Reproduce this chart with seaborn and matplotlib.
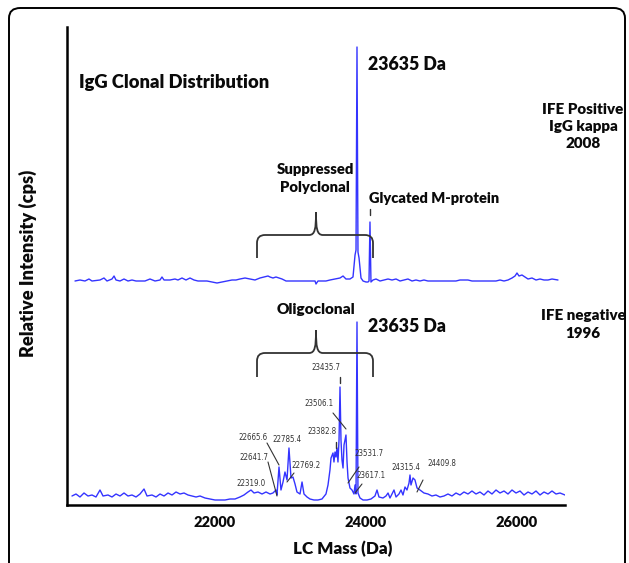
import matplotlib
matplotlib.use('Agg')
import matplotlib.pyplot as plt
import seaborn as sns
import pandas as pd
from matplotlib import font_manager
from matplotlib.patches import FancyBboxPatch, PathPatch
from matplotlib.path import Path
from matplotlib.lines import Line2D

# ---------------- data ----------------
# lower spectrum: IFE negative, 1996
bot_mass = [20106, 20159, 20212, 20265, 20318, 20371, 20424, 20477, 20517, 20583,
            20636, 20689, 20742, 20795, 20848, 20901, 20954, 21007, 21060, 21100,
            21166, 21219, 21272, 21325, 21378, 21431, 21484, 21537, 21590, 21643,
            21696, 21749, 21802, 21868, 21934, 22000, 22066, 22133, 22199, 22265,
            22331, 22384, 22437, 22477, 22517, 22570, 22623, 22676, 22729, 22768,
            22808, 22821, 22848, 22874, 22901, 22927, 22954, 22980, 23007, 23033,
            23060, 23086, 23126, 23153, 23179, 23219, 23258, 23311, 23364, 23417,
            23470, 23497, 23523, 23537, 23563, 23576, 23590, 23603, 23616, 23629,
            23643, 23656, 23669, 23682, 23696, 23709, 23735, 23749, 23762, 23788,
            23815, 23841, 23855, 23868, 23881, 23894, 23921, 23961, 24014, 24066,
            24119, 24146, 24172, 24225, 24265, 24292, 24318, 24371, 24398, 24437,
            24464, 24490, 24517, 24543, 24570, 24583, 24596, 24623, 24649, 24676,
            24715, 24768, 24821, 24874, 24927, 24980, 25033, 25086, 25139, 25192,
            25245, 25298, 25351, 25404, 25457, 25510, 25563, 25616, 25669, 25722,
            25775, 25828, 25881, 25934, 25987, 26040, 26093, 26146, 26199, 26252,
            26305, 26358, 26411, 26464, 26517, 26570, 26636]
bot_int = [9, 11, 8, 12, 9, 10, 8, 15, 9, 10,
           8, 11, 9, 12, 9, 10, 8, 11, 16, 9,
           10, 8, 11, 9, 12, 10, 13, 11, 12, 10,
           9, 8, 9, 7, 6, 5, 5, 5, 6, 6,
           8, 10, 13, 15, 12, 13, 11, 13, 11, 12,
           15, 10, 38, 15, 23, 33, 25, 57, 27, 28,
           21, 13, 11, 23, 11, 8, 6, 5, 5, 6,
           11, 20, 35, 47, 52, 43, 53, 48, 57, 43,
           65, 118, 65, 45, 37, 60, 70, 43, 27, 17,
           15, 11, 20, 11, 183, 12, 7, 5, 5, 6,
           9, 15, 8, 7, 9, 12, 7, 15, 8, 11,
           15, 10, 18, 15, 22, 30, 20, 27, 25, 17,
           15, 12, 11, 9, 10, 8, 9, 11, 9, 12,
           10, 13, 11, 14, 11, 13, 10, 14, 11, 15,
           12, 14, 11, 15, 12, 14, 10, 13, 11, 14,
           10, 13, 11, 14, 11, 12, 10]

# upper spectrum: IFE positive IgG kappa, 2008
top_mass = [20146, 20212, 20278, 20331, 20371, 20477, 20530, 20570, 20636, 20663,
            20689, 20742, 20795, 20848, 20901, 20954, 21007, 21073, 21139, 21206,
            21272, 21298, 21325, 21404, 21470, 21510, 21563, 21616, 21669, 21722,
            21775, 21828, 21894, 21961, 22027, 22093, 22159, 22225, 22278, 22331,
            22398, 22464, 22530, 22596, 22649, 22702, 22729, 22768, 22808, 22848,
            22888, 22941, 22994, 23060, 23126, 23192, 23258, 23325, 23338, 23364,
            23417, 23470, 23523, 23590, 23656, 23696, 23735, 23788, 23828, 23855,
            23868, 23881, 23894, 23908, 23934, 23961, 24000, 24027, 24040, 24053,
            24066, 24093, 24133, 24186, 24239, 24292, 24345, 24398, 24451, 24504,
            24556, 24610, 24662, 24715, 24768, 24821, 24874, 24927, 24980, 25033,
            25086, 25139, 25192, 25245, 25298, 25351, 25404, 25457, 25510, 25563,
            25616, 25669, 25722, 25775, 25828, 25881, 25934, 25974, 26000, 26027,
            26066, 26106, 26146, 26199, 26252, 26305, 26358, 26411, 26464, 26543]
top_int = [0, 1, 0, 2, 0, 1, 3, 0, 2, 5,
           1, 0, 2, 0, 1, 0, 0, 0, 2, 0,
           1, 4, 1, 1, 2, 1, 3, 1, 3, 1,
           0, 0, 0, -1, -2, -1, 0, 1, 1, 2,
           3, 2, 1, 3, 4, 5, 4, 3, 4, 3,
           2, 0, 0, 0, 0, 0, 0, 0, -3, 0,
           0, 0, 1, 2, 3, 5, 2, 2, 4, 26,
           31, 234, 29, 23, 3, 0, -1, -1, 0, 59,
           -1, 1, 2, 0, 1, 2, 1, 2, 0, 1,
           2, 0, 1, 0, 1, 0, 0, 0, 0, 0,
           0, 0, 0, 1, 1, 1, 0, 0, 0, 0,
           0, 0, 0, 1, 0, 1, 3, 5, 8, 5,
           6, 4, 2, 3, 1, 2, 1, 1, 2, 1]
TOP_OFFSET = 224

x_ticks = [22000, 24000, 26000]
x_tick_labels = ['22000', '24000', '26000']

peak_labels = ['23435.7', '23506.1', '23382.8', '22665.6', '22785.4', '22641.7',
               '22769.2', '22319.0', '23531.7', '23617.1', '24315.4', '24409.8']

# ---------------- figure ----------------
sns.set_theme(style='white')
plt.rcParams['font.family'] = ['Lato', 'DejaVu Sans']

W, H = 629, 563
fig = plt.figure(figsize=(W / 100, H / 100), dpi=100)
fig.patch.set_facecolor('white')


def fx(x):
    return x / W


def fy(y):
    return 1 - y / H


BLUE = '#3434ff'
GREY = '#333333'
TXT = '#0a0a0a'
WEIGHT = 'heavy'

ax = fig.add_axes([fx(67), fy(505), (565 - 67) / W, (505 - 27) / H])
ax.set_facecolor('white')
df_bot = pd.DataFrame({'mass': bot_mass, 'intensity': bot_int})
df_top = pd.DataFrame({'mass': top_mass,
                       'intensity': [v + TOP_OFFSET for v in top_int]})
sns.lineplot(data=df_bot, x='mass', y='intensity', ax=ax, color=BLUE,
             linewidth=1.0, estimator=None, sort=False)
sns.lineplot(data=df_top, x='mass', y='intensity', ax=ax, color=BLUE,
             linewidth=1.0, estimator=None, sort=False)
ax.set_xlim(20040, 26636)
ax.set_ylim(0, 478)
ax.set_xticks(x_ticks)
ax.set_xticklabels(x_tick_labels, fontweight=WEIGHT, fontsize=10.5, color=TXT)
ax.set_yticks([])
ax.tick_params(axis='x', length=0, pad=8)
for s in ['top', 'right']:
    ax.spines[s].set_visible(False)
for s in ['left', 'bottom']:
    ax.spines[s].set_linewidth(1.8)
    ax.spines[s].set_color('black')

ax.set_xlabel('LC Mass (Da)', fontweight=WEIGHT, fontsize=12.5, color=TXT)
ax.set_ylabel('Relative Intensity (cps)', fontweight=WEIGHT, fontsize=12.5, color=TXT)
ax.xaxis.set_label_coords(fx(343), fy(549), transform=fig.transFigure)
ax.xaxis.label.set_va('center')
ax.yaxis.set_label_coords(fx(28), fy(263), transform=fig.transFigure)
ax.yaxis.label.set_va('center')

# rounded frame around the figure
frame = FancyBboxPatch((fx(9), fy(590)), fx(625) - fx(9), fy(8) - fy(590),
                       boxstyle='round,pad=0,rounding_size=0.018',
                       transform=fig.transFigure, fill=False, ec='black', lw=1.4)
fig.add_artist(frame)

renderer = fig.canvas.get_renderer()


def fit(t, width):
    bb = t.get_window_extent(renderer=renderer)
    t.set_fontsize(t.get_fontsize() * width / bb.width)
    return t


def btext(x, y, s, width=None, ha='left', size=12, **kw):
    t = fig.text(fx(x), fy(y), s, ha=ha, va='center', fontweight=WEIGHT,
                 fontsize=size, color=TXT, **kw)
    if width:
        fit(t, width)
    return t


# fit axis labels to the reference lengths
fit(ax.xaxis.label, 100)
fit(ax.yaxis.label, 188) if False else None
yl = ax.yaxis.label
bb = yl.get_window_extent(renderer=renderer)
yl.set_fontsize(yl.get_fontsize() * 188 / bb.height)

btext(79, 83, 'IgG Clonal Distribution', width=189)
btext(368, 65, '23635 Da', width=78)
btext(368, 327, '23635 Da', width=78)
t1 = btext(583, 110, 'IFE Positive', ha='center', width=80)
fs_side = t1.get_fontsize()
btext(583, 127, 'IgG kappa', ha='center', size=fs_side)
btext(583, 143, '2008', ha='center', size=fs_side)
btext(583, 316, 'IFE negative', ha='center', size=fs_side)
btext(583, 333, '1996', ha='center', size=fs_side)
t2 = btext(315, 170, 'Suppressed', ha='center', width=77)
btext(315, 188, 'Polyclonal', ha='center', size=t2.get_fontsize())
btext(369, 198, 'Glycated M-protein', width=129)
btext(316, 309, 'Oligoclonal', ha='center', width=79)

# braces


def brace(xl, xr, xc, yh, ytip, ycusp):
    pts = [(xl, ytip), (xl, yh + 8), (xl, yh), (xl + 8, yh),
           (xc - 7, yh), (xc - 1, yh), (xc, yh - 6), (xc, ycusp),
           (xc, yh - 6), (xc + 1, yh), (xc + 7, yh),
           (xr - 8, yh), (xr, yh), (xr, yh + 8), (xr, ytip)]
    codes = [Path.MOVETO, Path.LINETO, Path.CURVE3, Path.CURVE3,
             Path.LINETO, Path.CURVE4, Path.CURVE4, Path.CURVE4,
             Path.CURVE4, Path.CURVE4, Path.CURVE4,
             Path.LINETO, Path.CURVE3, Path.CURVE3, Path.LINETO]
    verts = [(fx(a), fy(b)) for a, b in pts]
    fig.add_artist(PathPatch(Path(verts, codes), transform=fig.transFigure,
                             fill=False, ec=GREY, lw=1.3))


brace(257, 373, 316, 235, 258, 212)
brace(257, 373, 316, 353, 377, 330)


def seg(x0, y0, x1, y1, lw=0.8):
    fig.add_artist(Line2D([fx(x0), fx(x1)], [fy(y0), fy(y1)],
                          transform=fig.transFigure, color=GREY, lw=lw))


# choose a narrow font for the peak labels, if one is installed
narrow_fp = font_manager.FontProperties(family='DejaVu Sans')
for fam, stretch in [('Liberation Sans Narrow', 'normal'),
                     ('DejaVu Sans', 'condensed'),
                     ('Noto Sans', 'condensed'),
                     ('Roboto Condensed', 'normal'),
                     ('Roboto', 'condensed'),
                     ('Open Sans', 'condensed')]:
    fp = font_manager.FontProperties(family=fam, stretch=stretch)
    try:
        p = font_manager.findfont(fp, fallback_to_default=False)
    except Exception:
        continue
    low = p.lower()
    if 'narrow' in low or 'condensed' in low or 'cond' in low:
        narrow_fp = fp
        break

label_pos = [(326, 367), (319, 404), (322, 431), (253, 437), (287, 439), (254, 458),
             (306, 465), (251, 483), (369, 453), (371, 475), (406, 468), (442, 463)]
tt = fig.text(fx(0), fy(0), peak_labels[0], fontproperties=narrow_fp)
tt.set_fontsize(7)
fit(tt, 29)
fs_peak = tt.get_fontsize()
tt.remove()
for lab, (x, y) in zip(peak_labels, label_pos):
    t = fig.text(fx(x), fy(y), lab, fontproperties=narrow_fp, color=GREY,
                 ha='center', va='center')
    t.set_fontsize(fs_peak)

# leader lines and small markers
seg(267, 443, 279, 465)
seg(268, 462, 277, 496)
seg(294, 473, 287, 482)
seg(333, 413, 346, 429)
seg(359, 467, 348, 483)
seg(362, 484, 355, 493)
seg(423, 480, 417, 492)
seg(340, 377, 340, 383, lw=1.0)
seg(336, 442, 336, 448, lw=1.0)
seg(370, 209, 370, 215, lw=1.0)

fig.savefig('out.png', dpi=100, facecolor='white')
